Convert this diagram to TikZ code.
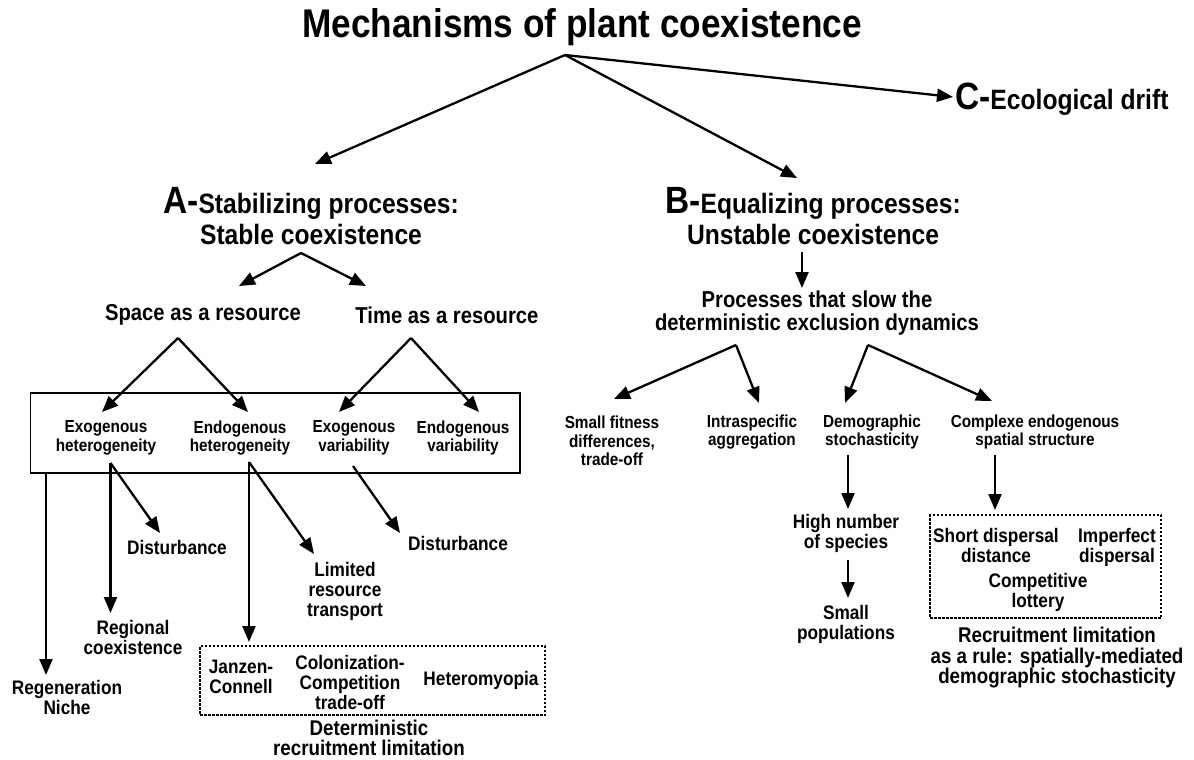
\documentclass[tikz,border=0pt]{standalone}
\usepackage{fontspec}
\setmainfont{Liberation Sans}[FakeStretch=0.88]
\usetikzlibrary{arrows.meta}
\newcommand{\bigini}[1]{{\fontsize{38}{34}\selectfont #1}}
\tikzset{
  arr/.style={line width=2.3pt, -{Triangle[length=16pt,width=13pt]}},
  txt/.style={inner sep=0pt, align=center, font=\bfseries\fontsize{19.6}{20}\selectfont},
  small/.style={txt, font=\bfseries\fontsize{17.4}{18.5}\selectfont},
  mid/.style={txt, font=\bfseries\fontsize{23}{23}\selectfont},
  note/.style={txt, font=\bfseries\fontsize{21.3}{20.5}\selectfont},
  head/.style={txt, font=\bfseries\fontsize{28}{31}\selectfont},
  frame/.style={draw, line width=1.8pt, inner sep=0pt},
  dots/.style={draw, line width=1.2pt, dash pattern=on 2.5pt off 1.5pt, inner sep=0pt},
}
\begin{document}
\begin{tikzpicture}[x=1pt, y=-1pt]
    \useasboundingbox[fill=white] (0,0) rectangle (1194,760);
    % boxes
    \node[frame, minimum width=489.5pt, minimum height=80pt] (resbox) at (275.25,433) {};
    \node[dots, minimum width=345pt, minimum height=69pt] (detbox) at (372.5,680.5) {};
    \node[dots, minimum width=231pt, minimum height=103pt] (dispbox) at (1045.5,566.5) {};
    % top levels
    \node[txt, font=\bfseries\fontsize{40}{40}\selectfont] (title) at (582,27) {Mechanisms of plant coexistence};
    \node[head] (stab) at (311,216) {\bigini{A-}Stabilizing processes:\\Stable coexistence};
    \node[head] (equal) at (813,216) {\bigini{B-}Equalizing processes:\\Unstable coexistence};
    \node[head, anchor=west] (drift) at (955,99) {\bigini{C-}Ecological drift};
    % stabilizing side
    \node[mid] (space) at (203,315) {Space as a resource};
    \node[mid] (time) at (447,315) {Time as a resource};
    \node[small] (exohet) at (106,438) {Exogenous\\heterogeneity};
    \node[small] (endhet) at (240,438) {Endogenous\\heterogeneity};
    \node[small] (exovar) at (354,438) {Exogenous\\variability};
    \node[small] (endvar) at (463,438) {Endogenous\\variability};
    \node[txt] (regen) at (67,697) {Regeneration\\Niche};
    \node[txt] (regional) at (133,637) {Regional\\coexistence};
    \node[txt] (dist) at (177,547) {Disturbance};
    \node[txt] (limited) at (345,591) {Limited\\resource\\transport};
    \node[txt] (distb) at (458,543) {Disturbance};
    \node[txt] (janzen) at (241,677) {Janzen-\\Connell};
    \node[txt] (colon) at (350,682) {Colonization-\\Competition\\trade-off};
    \node[txt] (hetero) at (481,680) {Heteromyopia};
    \node[note] (detrec) at (369,738) {Deterministic\\recruitment limitation};
    % equalizing side
    \node[mid] (slow) at (817,313) {Processes that slow the\\deterministic exclusion dynamics};
    \node[small] (fitness) at (612,441) {Small fitness\\differences,\\trade-off};
    \node[small] (intra) at (752,432) {Intraspecific\\aggregation};
    \node[small] (demo) at (872,432) {Demographic\\stochasticity};
    \node[small] (complex) at (1035,432) {Complexe endogenous\\spatial structure};
    \node[txt] (high) at (846,533) {High number\\of species};
    \node[txt] (smallpop) at (846,624) {Small\\populations};
    \node[txt, anchor=north] (short) at (996,528) {Short dispersal\\distance};
    \node[txt, anchor=north] (imperf) at (1117,528) {Imperfect\\dispersal};
    \node[txt] (lottery) at (1038,592) {Competitive\\lottery};
    \node[note] (recrule) at (1057,658) {Recruitment limitation\\as a rule: spatially-mediated\\demographic stochasticity};
    % arrow ends
    \coordinate (top) at (565,55);
    \coordinate (tA) at (315,164);
    \coordinate (tB) at (797,178);
    \coordinate (tC) at (953,97);
    \coordinate (aA) at (301,253);
    \coordinate (tSpace) at (239,286);
    \coordinate (tTime) at (366,286);
    \coordinate (aSpace) at (178,338);
    \coordinate (tExoHet) at (102,412);
    \coordinate (tEndHet) at (248,412);
    \coordinate (aTime) at (411,338);
    \coordinate (tExoVar) at (339,412);
    \coordinate (tEndVar) at (479,412);
    \coordinate (sRegen) at (46,473);
    \coordinate (tRegen) at (46,675);
    \coordinate (sExo) at (110.5,463);
    \coordinate (tRegional) at (110.5,613);
    \coordinate (tDist) at (160,533);
    \coordinate (sEnd) at (249,462);
    \coordinate (tJanzen) at (249,642);
    \coordinate (tLimited) at (314,554);
    \coordinate (sVar) at (353,466);
    \coordinate (tDistB) at (400,533);
    \coordinate (aB) at (802,252);
    \coordinate (tSlow) at (802,288);
    \coordinate (aL) at (736,345);
    \coordinate (tFit) at (614,399);
    \coordinate (tIntra) at (759,403);
    \coordinate (aR) at (868,345);
    \coordinate (tDemo) at (845,403);
    \coordinate (tComplex) at (992,401);
    \coordinate (sDemo) at (848,455);
    \coordinate (tHigh) at (848,509);
    \coordinate (sHigh) at (848,560);
    \coordinate (tSmallPop) at (848,598);
    \coordinate (sComplex) at (995,455);
    \coordinate (tDisp) at (995,510);
    \foreach \a/\b in {top/tA, top/tB, top/tC, aA/tSpace, aA/tTime,
        aSpace/tExoHet, aSpace/tEndHet, aTime/tExoVar, aTime/tEndVar,
        sRegen/tRegen, sExo/tRegional, sExo/tDist, sEnd/tJanzen, sEnd/tLimited,
        sVar/tDistB, aB/tSlow, aL/tFit, aL/tIntra, aR/tDemo, aR/tComplex,
        sDemo/tHigh, sHigh/tSmallPop, sComplex/tDisp} {
            \draw[arr] (\a) -- (\b);
        }
\end{tikzpicture}
\end{document}
